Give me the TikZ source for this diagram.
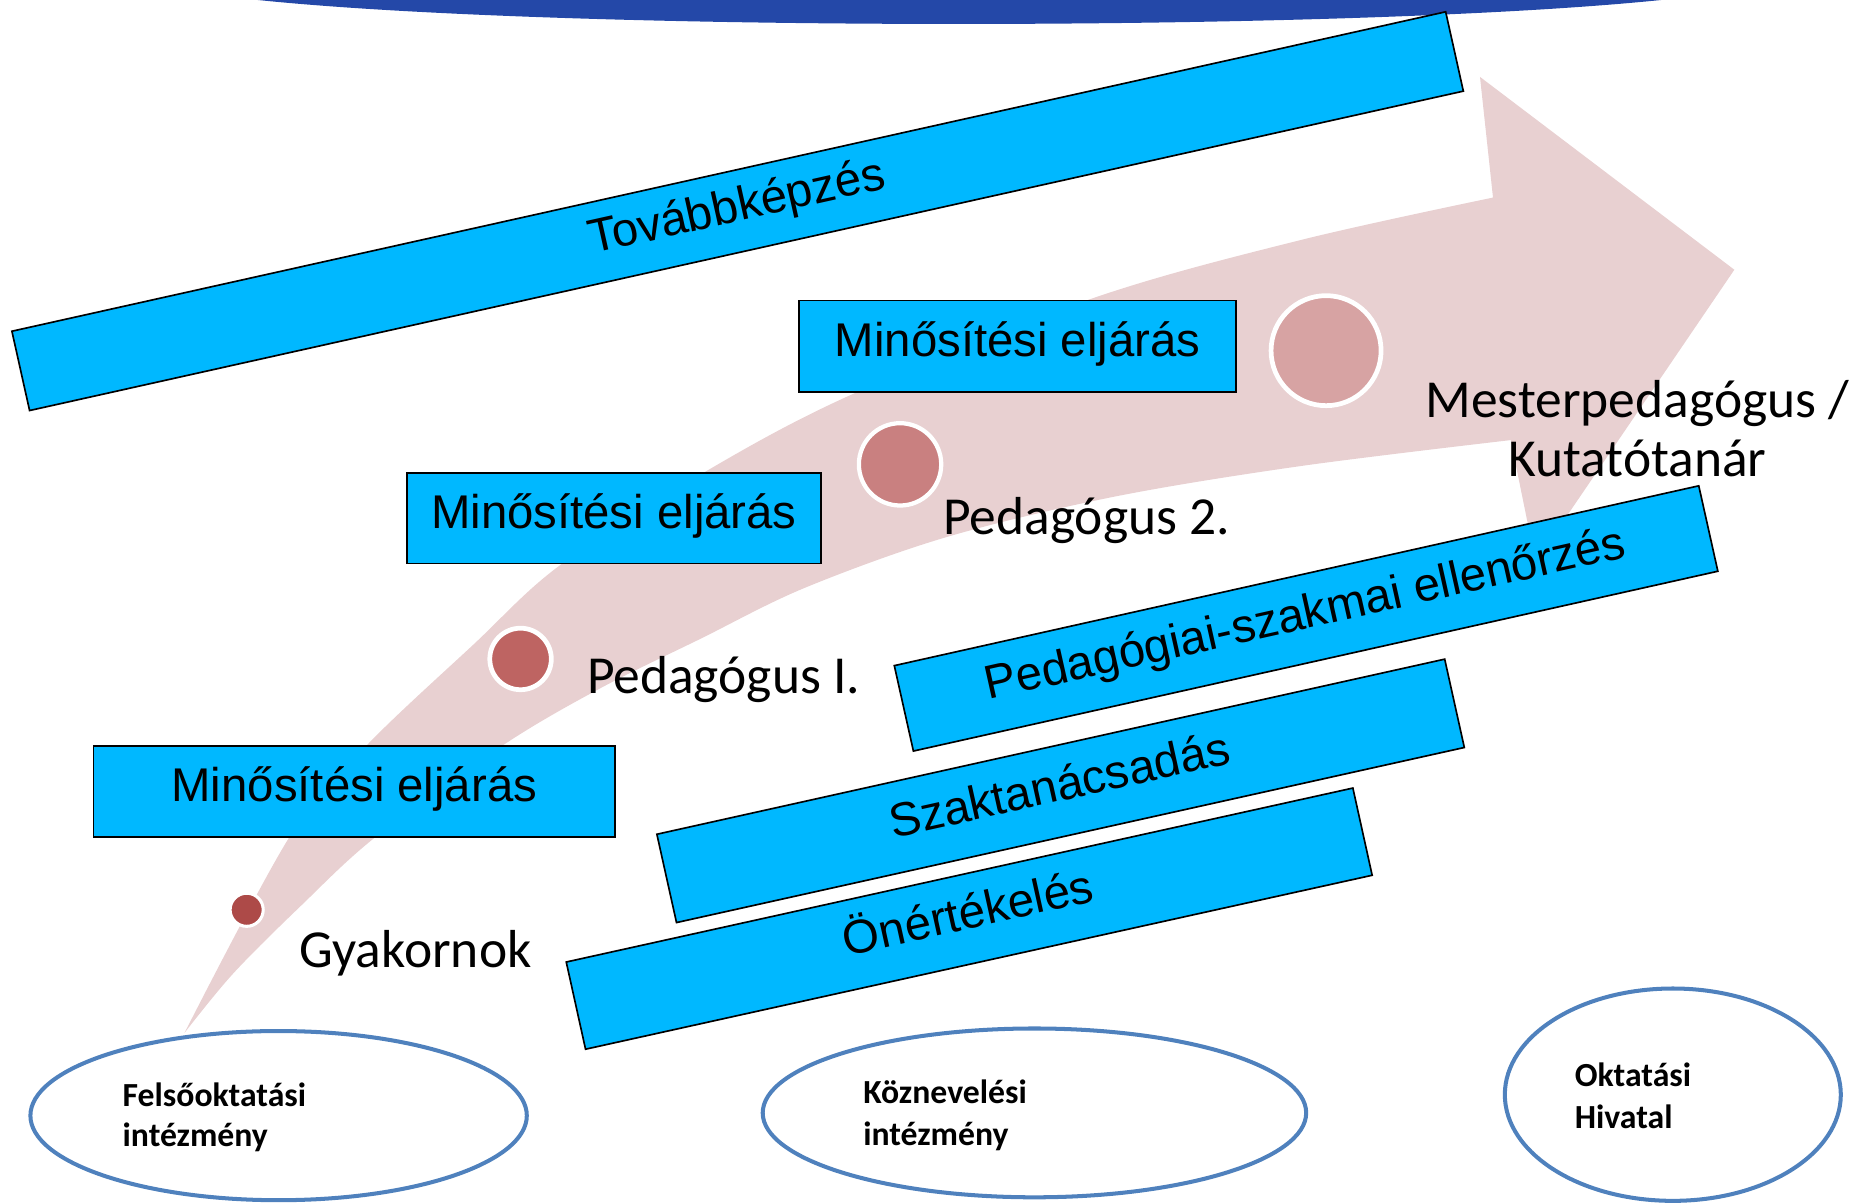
\documentclass[tikz,border=0pt]{standalone}
\usepackage{fontspec}
\setmainfont{Carlito}
\newfontfamily\arialf{Liberation Sans}
\usetikzlibrary{shapes.geometric}
\definecolor{cyanbox}{RGB}{0,184,255}
\definecolor{arrowpink}{RGB}{232,208,209}
\definecolor{topblue}{RGB}{36,72,168}
\definecolor{ellblue}{RGB}{79,129,189}
\definecolor{dotA}{RGB}{173,74,72}
\definecolor{dotB}{RGB}{190,100,98}
\definecolor{dotC}{RGB}{201,128,128}
\definecolor{dotD}{RGB}{215,163,163}
\begin{document}
\begin{tikzpicture}[x=1pt,y=-1pt,
  stagebox/.style={draw=black, line width=1.4pt, fill=cyanbox, inner sep=0pt,
    text height=28pt, text depth=11pt, font=\arialf\fontsize{40}{48}\selectfont},
  stagelabel/.style={anchor=base west, inner sep=0pt, font=\fontsize{45.2}{50}\selectfont},
  dot/.style={circle, draw=white, inner sep=0pt},
  inst/.style={ellipse, draw=ellblue, line width=3.4pt, inner sep=0pt},
  instlabel/.style={anchor=base west, inner sep=0pt, font=\bfseries\fontsize{28.5}{35}\selectfont}]
\useasboundingbox (0,0) rectangle (1568,1017.7);

% big curved arrow
\fill[arrowpink] plot[smooth, tension=0.55] coordinates {(156,873) (245,707) (310,630) (400,545) (473,478) (594,400) (721,333) (924,252) (1099,203) (1262,167)}
  -- (1251,65) -- (1466,228) -- (1298,475) -- (1277,372)
  -- plot[smooth, tension=0.55] coordinates {(1277,372) (1099,394) (941,420) (800,454) (680,497) (592,540) (507,582) (425,630) (318,707) (254,766) (197,823) (156,873)} -- cycle;

% top blue arc
\fill[topblue] (218,0) .. controls (480,27) and (1140,27) .. (1404,0) -- cycle;

% boxes
\node[stagebox, rotate=12.56, minimum width=1241.7, minimum height=68.7] (tovabb) at (623.5,178.5) {Továbbképzés};
\node[stagebox, minimum width=441, minimum height=76.7] (min1) at (299.5,669) {Minősítési eljárás};
\node[stagebox, minimum width=350.3, minimum height=76.6] (min2) at (518.9,437.9) {Minősítési eljárás};
\node[stagebox, minimum width=369.6, minimum height=77.5] (min3) at (860.2,292.75) {Minősítési eljárás};
\node[stagebox, rotate=12.6, minimum width=696.8, minimum height=74] (pedszak) at (1104,522.75) {Pedagógiai-szakmai ellenőrzés};
\node[stagebox, rotate=12.53, minimum width=682.2, minimum height=76.5] (szak) at (896.5,668.5) {Szaktanácsadás};
\node[stagebox, rotate=12.47, minimum width=681, minimum height=75.5] (onert) at (819.25,776.5) {Önértékelés};

% stage dots
\node[dot, fill=dotA, line width=2.6pt, minimum size=28] (d0) at (208.5,769) {};
\node[dot, fill=dotB, line width=4pt, minimum size=52] (d1) at (440,557) {};
\node[dot, fill=dotC, line width=3.6pt, minimum size=69.6] (d2) at (760.8,392.5) {};
\node[dot, fill=dotD, line width=4pt, minimum size=93] (d3) at (1120.9,296.4) {};

% stage labels
\node[stagelabel] (gyak) at (253,818) {Gyakornok};
\node[stagelabel] (ped1) at (496,586) {Pedagógus I.};
\node[stagelabel] (ped2) at (797,451.7) {Pedagógus 2.};
\node[stagelabel, anchor=base] (mester) at (1384,352.5) {Mesterpedagógus /};
\node[stagelabel, anchor=base] (kutato) at (1384,402.8) {Kutatótanár};

% institutions
\node[inst, minimum width=419.6, minimum height=143] (felso) at (235.5,943) {};
\node[inst, minimum width=459.4, minimum height=142.7] (kozn) at (874.4,940.7) {};
\node[inst, minimum width=284, minimum height=179.5] (oh) at (1414,925.3) {};
\node[instlabel] (felso1) at (103.5,935.5) {Felsőoktatási};
\node[instlabel] (felso2) at (103.5,969.3) {intézmény};
\node[instlabel] (kozn1) at (729.5,932.7) {Köznevelési};
\node[instlabel] (kozn2) at (729.5,967.9) {intézmény};
\node[instlabel] (oh1) at (1331,918.6) {Oktatási};
\node[instlabel] (oh2) at (1331,953.8) {Hivatal};
\end{tikzpicture}
\end{document}
